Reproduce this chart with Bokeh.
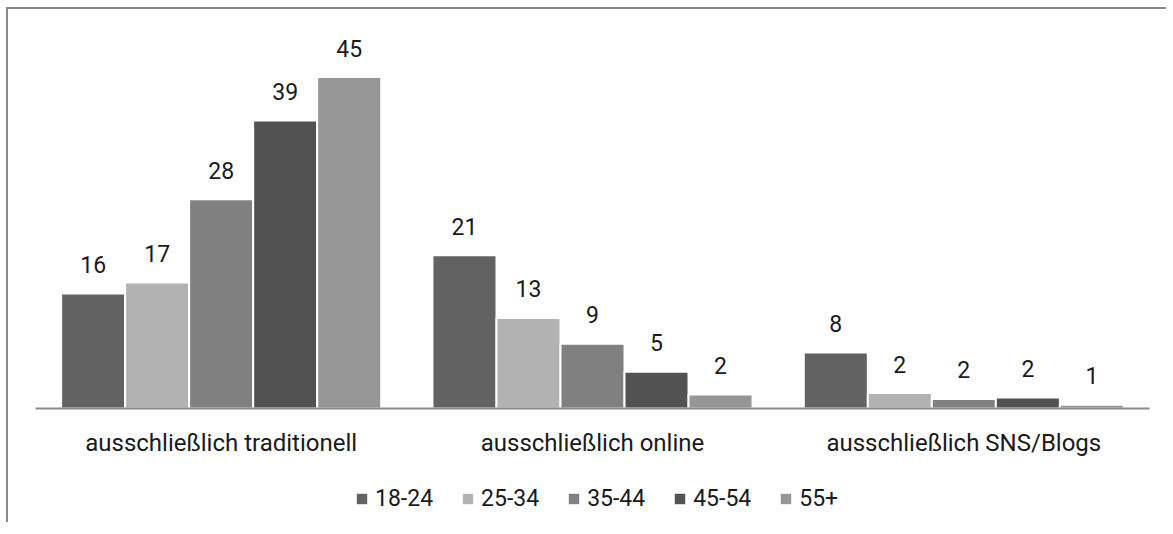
from bokeh.plotting import figure
from bokeh.layouts import column
from bokeh.models import ColumnDataSource, FactorRange, Range1d, Legend, LegendItem
from bokeh.transform import dodge
from bokeh.core.properties import value
from bokeh.embed import file_html
from bokeh.resources import INLINE

# ---- data ----
categories = ["ausschließlich traditionell", "ausschließlich online", "ausschließlich SNS/Blogs"]
age_groups = ["18-24", "25-34", "35-44", "45-54", "55+"]
v_18_24 = [15.6, 20.8, 7.6]
v_25_34 = [17.1, 12.3, 2.1]
v_35_44 = [28.4, 8.8, 1.3]
v_45_54 = [39.1, 5.0, 1.5]
v_55_plus = [45.0, 1.9, 0.5]
l_18_24 = ["16", "21", "8"]
l_25_34 = ["17", "13", "2"]
l_35_44 = ["28", "9", "2"]
l_45_54 = ["39", "5", "2"]
l_55_plus = ["45", "2", "1"]

colors = ["#626262", "#b2b2b2", "#808080", "#525252", "#969696"]

series_vals = [v_18_24, v_25_34, v_35_44, v_45_54, v_55_plus]
series_lbls = [l_18_24, l_25_34, l_35_44, l_45_54, l_55_plus]

data = {"cat": categories}
for i in range(5):
    data[f"v{i}"] = series_vals[i]
    data[f"l{i}"] = series_lbls[i]
source = ColumnDataSource(data)

FONT = "Roboto"
TXT = "#1a1a1a"
FRAME = "2px solid #898989"

p = figure(
    x_range=FactorRange(*categories),
    y_range=Range1d(0, 52),
    width=1160, height=459,
    output_backend="svg", toolbar_location=None,
    min_border_left=27, min_border_right=19,
    min_border_top=16, min_border_bottom=60,
)
p.styles = {"border-top": FRAME, "border-left": FRAME,
            "margin-top": "7px", "margin-left": "6px"}
p.outline_line_color = None
p.xgrid.grid_line_color = None
p.ygrid.grid_line_color = None
p.yaxis.visible = False
p.background_fill_color = "white"
p.border_fill_color = "white"

bw = 0.1724
offsets = [-2 * bw, -bw, 0.0, bw, 2 * bw]
for i in range(5):
    p.vbar(x=dodge("cat", offsets[i], range=p.x_range), top=f"v{i}", width=bw,
           source=source, fill_color=colors[i], line_color="white", line_width=2)
    p.text(x=dodge("cat", offsets[i], range=p.x_range), y=f"v{i}", text=f"l{i}",
           source=source, text_align="center", text_baseline="alphabetic", y_offset=-29,
           text_font=value(FONT), text_font_size=value("23px"), text_color=TXT)

ax = p.xaxis[0]
ax.axis_line_color = "#898989"
ax.axis_line_width = 2
ax.major_tick_line_color = None
ax.minor_tick_line_color = None
ax.major_tick_out = 0
ax.major_tick_in = 0
ax.major_label_orientation = "horizontal"
ax.major_label_text_font = FONT
ax.major_label_text_font_size = "24px"
ax.major_label_text_color = TXT
ax.major_label_standoff = 20

# legend strip: a small figure whose (out-of-view) bars supply the legend keys
p2 = figure(
    x_range=FactorRange(*categories), y_range=Range1d(100, 101),
    width=1160, height=56,
    output_backend="svg", toolbar_location=None,
    x_axis_location=None, y_axis_location=None,
    min_border_left=0, min_border_right=0, min_border_top=0, min_border_bottom=0,
)
p2.styles = {"border-left": FRAME, "margin-left": "6px"}
p2.outline_line_color = None
p2.xgrid.grid_line_color = None
p2.ygrid.grid_line_color = None

key_renderers = []
for i in range(5):
    kr = p2.vbar(x=dodge("cat", offsets[i], range=p2.x_range), top=f"v{i}", width=bw,
                 source=source, fill_color=colors[i], line_color=None)
    key_renderers.append(kr)

legend = Legend(
    items=[LegendItem(label=age_groups[i], renderers=[key_renderers[i]]) for i in range(5)],
    orientation="horizontal", location=(320, 10),
)
legend.border_line_color = None
legend.background_fill_alpha = 0
legend.glyph_width = 13
legend.glyph_height = 13
legend.label_standoff = 7
legend.spacing = 28
legend.label_text_font = FONT
legend.label_text_font_size = "23px"
legend.label_text_color = TXT
legend.padding = 4
legend.margin = 0
p2.add_layout(legend)

layout = column(p, p2, spacing=0)
open("out.html", "w").write(file_html(layout, INLINE))
